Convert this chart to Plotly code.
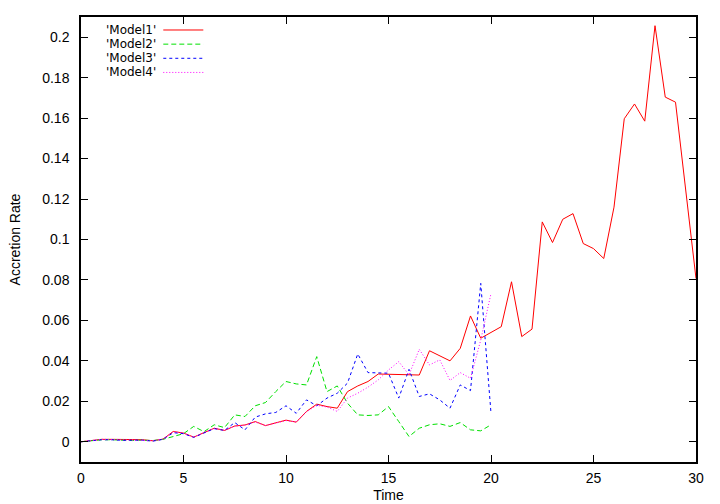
import plotly.graph_objects as go

# ---------------- data ----------------
time_m1 = [i * 0.5 for i in range(61)]
model1 = [0.0, 0.0005, 0.0012, 0.0012, 0.0010, 0.0011, 0.0010, 0.0005, 0.0013, 0.0051,
          0.0043, 0.0023, 0.0045, 0.0067, 0.0056, 0.0078, 0.0083, 0.0100, 0.0080, 0.0092,
          0.0107, 0.0097, 0.0150, 0.0186, 0.0174, 0.0166, 0.0248, 0.0276, 0.0298, 0.0335,
          0.0334, 0.0333, 0.0331, 0.0330, 0.0450, 0.0425, 0.0400, 0.0462, 0.0622, 0.0512,
          0.0540, 0.0569, 0.0791, 0.0520, 0.0557, 0.1087, 0.0985, 0.1100, 0.1128, 0.0980,
          0.0955, 0.0906, 0.1160, 0.1597, 0.1670, 0.1585, 0.2057, 0.1704, 0.1679, 0.1240,
          0.0807]

time_m234 = [i * 0.5 for i in range(41)]
model2 = [0.0, 0.0005, 0.0010, 0.0010, 0.0008, 0.0006, 0.0008, 0.0006, 0.0012, 0.0025,
          0.0040, 0.0076, 0.0050, 0.0084, 0.0070, 0.0133, 0.0125, 0.0178, 0.0194, 0.0248,
          0.0298, 0.0286, 0.0281, 0.0421, 0.0248, 0.0276, 0.0191, 0.0133, 0.0130, 0.0133,
          0.0174, 0.0100, 0.0026, 0.0067, 0.0084, 0.0089, 0.0076, 0.0095, 0.0059, 0.0054,
          0.0084]
model3 = [0.0, 0.0005, 0.0010, 0.0010, 0.0007, 0.0008, 0.0008, 0.0003, 0.0012, 0.0045,
          0.0040, 0.0022, 0.0045, 0.0065, 0.0056, 0.0095, 0.0059, 0.0122, 0.0138, 0.0145,
          0.0178, 0.0141, 0.0207, 0.0178, 0.0216, 0.0240, 0.0290, 0.0434, 0.0342, 0.0339,
          0.0339, 0.0216, 0.0358, 0.0224, 0.0237, 0.0207, 0.0166, 0.0281, 0.0253, 0.0783,
          0.0141]
model4 = [0.0, 0.0005, 0.0012, 0.0011, 0.0010, 0.0010, 0.0009, 0.0005, 0.0013, 0.0049,
          0.0043, 0.0022, 0.0046, 0.0066, 0.0057, 0.0077, 0.0082, 0.0098, 0.0080, 0.0091,
          0.0105, 0.0098, 0.0148, 0.0180, 0.0172, 0.0150, 0.0216, 0.0240, 0.0270, 0.0306,
          0.0355, 0.0396, 0.0331, 0.0457, 0.0380, 0.0405, 0.0303, 0.0342, 0.0314, 0.0503,
          0.0733]

series_names = ["'Model1'", "'Model2'", "'Model3'", "'Model4'"]
x_ticks = [0, 5, 10, 15, 20, 25, 30]
y_ticks = [0, 0.02, 0.04, 0.06, 0.08, 0.1, 0.12, 0.14, 0.16, 0.18, 0.2]

# ---------------- styles ----------------
colors = ["#ff0000", "#00e000", "#0000ff", "#ff00ff"]
dashes = ["solid", "5px,3px", "3px,3px", "1px,2px"]
FONT = "Liberation Sans, Arial, Helvetica, sans-serif"
LEGEND_FONT = "DejaVu Sans, Liberation Sans, sans-serif"

fig = go.Figure()
xs = [time_m1, time_m234, time_m234, time_m234]
ys = [model1, model2, model3, model4]
for name, x, y, c, d in zip(series_names, xs, ys, colors, dashes):
    fig.add_trace(go.Scatter(x=x, y=y, mode="lines", name=name,
                             line=dict(color=c, width=1, dash=d),
                             showlegend=False))

# gnuplot-style legend: text right-aligned, sample line to the right
row_y = [0.9708, 0.9390, 0.9072, 0.8754]
for name, c, d, yy in zip(series_names, colors, dashes, row_y):
    fig.add_annotation(x=0.1231, y=yy, xref="paper", yref="paper", text=name,
                       showarrow=False, xanchor="right", yanchor="middle",
                       borderpad=0,
                       font=dict(family=LEGEND_FONT, size=12, color="black"))
    fig.add_shape(type="line", xref="paper", yref="paper",
                  x0=0.1338, x1=0.1989, y0=yy, y1=yy,
                  line=dict(color=c, width=1, dash=d))

axis_common = dict(
    showline=True, linecolor="black", linewidth=1.5, mirror="ticks",
    ticks="inside", ticklen=7, tickcolor="black", tickwidth=1,
    showgrid=False, zeroline=False, automargin=False,
    tickfont=dict(family=FONT, size=14, color="black"),
)

fig.update_xaxes(range=[0, 30], tickvals=x_ticks, ticktext=[str(v) for v in x_ticks],
                 title=dict(text="Time", font=dict(family=FONT, size=14, color="black"), standoff=6),
                 ticklabelstandoff=2, **axis_common)
fig.update_yaxes(range=[-0.01, 0.21], tickvals=y_ticks, ticktext=[f"{v:g}" for v in y_ticks],
                 title=dict(text="Accretion Rate", font=dict(family=FONT, size=14, color="black"), standoff=18),
                 ticklabelstandoff=7, **axis_common)

fig.update_layout(
    width=720, height=504,
    margin=dict(l=81, r=24, t=17, b=42),
    paper_bgcolor="white", plot_bgcolor="white",
    font=dict(family=FONT, size=14, color="black"),
    showlegend=False,
)

# remove the default page margin so the 720x504 figure fills the window exactly
fig.write_html("out.html", config={"displayModeBar": False},
               post_script="document.body.style.margin='0';")
